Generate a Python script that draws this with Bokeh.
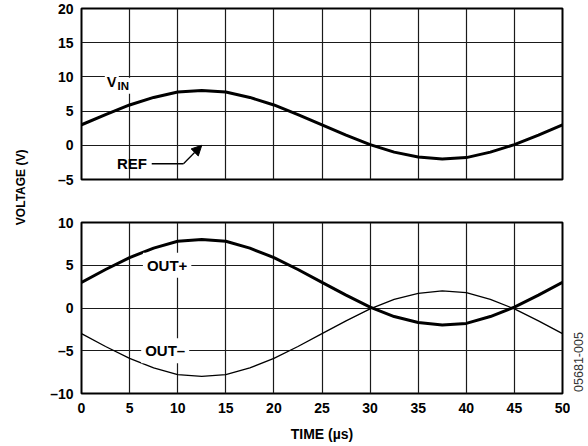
from bokeh.plotting import figure
from bokeh.layouts import row, column
from bokeh.models import Range1d, FixedTicker, Label, Arrow, NormalHead
from bokeh.embed import file_html
from bokeh.resources import INLINE

# ---- data ----
time_us = [0, 2.5, 5, 7.5, 10, 12.5, 15, 17.5, 20, 22.5, 25,
           27.5, 30, 32.5, 35, 37.5, 40, 42.5, 45, 47.5, 50]
vin = [3.0, 4.5, 5.9, 7.0, 7.8, 8.0, 7.8, 7.0, 5.9, 4.5, 3.0,
       1.5, 0.1, -1.0, -1.7, -2.0, -1.8, -1.0, 0.1, 1.5, 3.0]
out_pos = [3.0, 4.5, 5.9, 7.0, 7.8, 8.0, 7.8, 7.0, 5.9, 4.5, 3.0,
           1.5, 0.1, -1.0, -1.7, -2.0, -1.8, -1.0, 0.1, 1.5, 3.0]
out_neg = [-3.0, -4.5, -5.9, -7.0, -7.8, -8.0, -7.8, -7.0, -5.9, -4.5, -3.0,
           -1.5, -0.1, 1.0, 1.7, 2.0, 1.8, 1.0, -0.1, -1.5, -3.0]

x_ticks = [0, 5, 10, 15, 20, 25, 30, 35, 40, 45, 50]
top_y_ticks = [-5, 0, 5, 10, 15, 20]
top_y_labels = ["\u20135", "0", "5", "10", "15", "20"]
bot_y_ticks = [-10, -5, 0, 5, 10]
bot_y_labels = ["\u201310", "\u20135", "0", "5", "10"]

FONT = "Liberation Sans"
GRID = "#1a1a1a"


def style(p, yticks, ylabels):
    p.outline_line_color = "black"
    p.outline_line_width = 2
    p.yaxis.ticker = FixedTicker(ticks=yticks)
    p.yaxis.major_label_overrides = {t: l for t, l in zip(yticks, ylabels)}
    p.yaxis.major_label_text_font = FONT
    p.yaxis.major_label_text_font_style = "bold"
    p.yaxis.major_label_text_font_size = "14px"
    p.yaxis.major_label_text_color = "black"
    p.yaxis.major_label_standoff = 8
    p.yaxis.major_tick_out = 0
    p.yaxis.major_tick_in = 0
    p.yaxis.minor_tick_out = 0
    p.yaxis.minor_tick_in = 0
    p.yaxis.axis_line_color = None
    p.xgrid.ticker = FixedTicker(ticks=x_ticks)
    p.ygrid.ticker = FixedTicker(ticks=yticks)
    p.grid.grid_line_color = GRID
    p.grid.grid_line_width = 1.2
    p.grid.grid_line_alpha = 1.0
    p.background_fill_color = "white"
    p.border_fill_color = "white"


def strip(w, h):
    s = figure(width=w, height=h, x_range=Range1d(0, 1), y_range=Range1d(0, 1),
               x_axis_location=None, y_axis_location=None,
               toolbar_location=None, output_backend="svg", min_border=0)
    s.grid.visible = False
    s.outline_line_color = None
    return s


# ---- left strip holding the shared y-axis title ----
lab = strip(38, 446)
lab.add_layout(Label(x=0.55, y=0.581, text="VOLTAGE (V)", angle=90, angle_units="deg",
                     text_align="center", text_baseline="middle", text_font=FONT,
                     text_font_style="bold", text_font_size="12px", text_color="black"))

# ---- top panel: V_IN ----
top = figure(width=550, height=199, x_range=Range1d(0, 50), y_range=Range1d(-5, 20),
             x_axis_location=None, toolbar_location=None, output_backend="svg",
             min_border_left=43, min_border_right=26, min_border_top=8, min_border_bottom=20)
style(top, top_y_ticks, top_y_labels)
top.line(time_us, vin, line_color="black", line_width=3, line_join="round")

top.add_layout(Label(x=3.15, y=9.35, text="V", text_align="center", text_baseline="middle",
                     text_font=FONT, text_font_style="bold", text_font_size="15px",
                     text_color="black", background_fill_color="white", padding=2))
top.add_layout(Label(x=4.35, y=8.7, text="IN", text_align="center", text_baseline="middle",
                     text_font=FONT, text_font_style="bold", text_font_size="11.5px",
                     text_color="black", background_fill_color="white", padding=2))
top.add_layout(Label(x=5.25, y=-2.7, text="REF", text_align="center", text_baseline="middle",
                     text_font=FONT, text_font_style="bold", text_font_size="15px",
                     text_color="black"))
top.add_layout(Arrow(x_start=7.3, y_start=-2.7, x_end=10.6, y_end=-2.7, end=None,
                     line_color="black", line_width=1.3))
top.add_layout(Arrow(x_start=10.6, y_start=-2.7, x_end=12.5, y_end=0,
                     end=NormalHead(size=10, fill_color="black", line_color="black"),
                     line_color="black", line_width=1.3))

# ---- bottom panel: OUT+ / OUT- ----
bot = figure(width=532, height=247, x_range=Range1d(0, 50), y_range=Range1d(-10, 10),
             toolbar_location=None, output_backend="svg",
             min_border_left=43, min_border_right=8, min_border_top=23, min_border_bottom=53)
style(bot, bot_y_ticks, bot_y_labels)
bot.xaxis.ticker = FixedTicker(ticks=x_ticks)
bot.xaxis.major_label_text_font = FONT
bot.xaxis.major_label_text_font_style = "bold"
bot.xaxis.major_label_text_font_size = "14px"
bot.xaxis.major_label_text_color = "black"
bot.xaxis.major_label_standoff = 9
bot.xaxis.major_tick_out = 0
bot.xaxis.major_tick_in = 0
bot.xaxis.minor_tick_out = 0
bot.xaxis.minor_tick_in = 0
bot.xaxis.axis_line_color = None
bot.xaxis.axis_label = "TIME (\u00b5s)"
bot.xaxis.axis_label_text_font = FONT
bot.xaxis.axis_label_text_font_style = "bold"
bot.xaxis.axis_label_text_font_size = "14px"
bot.xaxis.axis_label_text_color = "black"
bot.xaxis.axis_label_standoff = 10

bot.line(time_us, out_pos, line_color="black", line_width=3, line_join="round")
bot.line(time_us, out_neg, line_color="black", line_width=1.3, line_join="round")

bot.add_layout(Label(x=8.9, y=5, text="OUT+", text_align="center", text_baseline="middle",
                     text_font=FONT, text_font_style="bold", text_font_size="15px",
                     text_color="black", background_fill_color="white", padding=4))
bot.add_layout(Label(x=8.7, y=-5, text="OUT\u2013", text_align="center", text_baseline="middle",
                     text_font=FONT, text_font_style="bold", text_font_size="15px",
                     text_color="black", background_fill_color="white", padding=4))

# ---- right strip holding the figure code ----
code = strip(18, 247)
code.add_layout(Label(x=0.45, y=0.184, text="05681-005", angle=90, angle_units="deg",
                      text_align="center", text_baseline="middle", text_font=FONT,
                      text_font_size="12.5px", text_color="#333333"))

layout = row(lab, column(top, row(bot, code)))
open("out.html", "w").write(file_html(layout, INLINE))
